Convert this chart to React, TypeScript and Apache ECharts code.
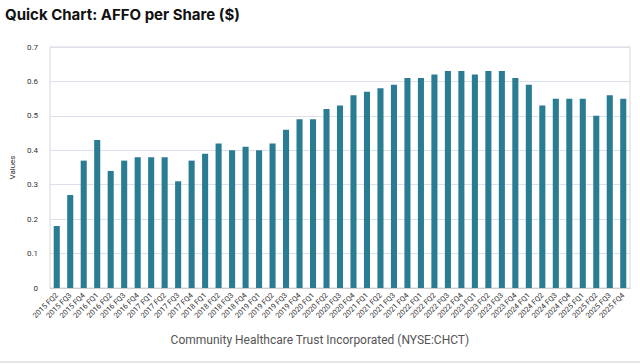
import React, { useEffect, useRef } from "react";
import * as echarts from "echarts";

const categories: string[] = [
  "2015 FQ2", "2015 FQ3", "2015 FQ4",
  "2016 FQ1", "2016 FQ2", "2016 FQ3", "2016 FQ4",
  "2017 FQ1", "2017 FQ2", "2017 FQ3", "2017 FQ4",
  "2018 FQ1", "2018 FQ2", "2018 FQ3", "2018 FQ4",
  "2019 FQ1", "2019 FQ2", "2019 FQ3", "2019 FQ4",
  "2020 FQ1", "2020 FQ2", "2020 FQ3", "2020 FQ4",
  "2021 FQ1", "2021 FQ2", "2021 FQ3", "2021 FQ4",
  "2022 FQ1", "2022 FQ2", "2022 FQ3", "2022 FQ4",
  "2023 FQ1", "2023 FQ2", "2023 FQ3", "2023 FQ4",
  "2024 FQ1", "2024 FQ2", "2024 FQ3", "2024 FQ4",
  "2025 FQ1", "2025 FQ2", "2025 FQ3", "2025 FQ4",
];

const affoPerShare: number[] = [
  0.18, 0.27, 0.37,
  0.43, 0.34, 0.37, 0.38,
  0.38, 0.38, 0.31, 0.37,
  0.39, 0.42, 0.40, 0.41,
  0.40, 0.42, 0.46, 0.49,
  0.49, 0.52, 0.53, 0.56,
  0.57, 0.58, 0.59, 0.61,
  0.61, 0.62, 0.63, 0.63,
  0.62, 0.63, 0.63, 0.61,
  0.59, 0.53, 0.55, 0.55,
  0.55, 0.50, 0.56, 0.55,
];

const titleText = "Quick Chart: AFFO per Share ($)";
const subtitleText = "Community Healthcare Trust Incorporated (NYSE:CHCT)";
const yAxisName = "Values";

export default function App() {
  const ref = useRef<HTMLDivElement>(null);
  useEffect(() => {
    if (!ref.current) return;
    const chart = echarts.init(ref.current, undefined, { renderer: "svg" });
    chart.setOption({
      animation: false,
      backgroundColor: "#ffffff",
      title: {
        text: titleText,
        left: 0,
        top: 2,
        textStyle: {
          fontFamily: "Inter",
          fontWeight: "bold",
          fontSize: 15,
          color: "#111111",
        },
      },
      grid: {
        left: 44,
        right: 10,
        top: 47,
        bottom: 76,
        show: true,
        borderColor: "#d8d8d8",
        borderWidth: 1,
        backgroundColor: "transparent",
      },
      xAxis: {
        type: "category",
        data: categories,
        boundaryGap: true,
        axisLine: { show: true, lineStyle: { color: "#cfcfcf" } },
        axisTick: { show: false },
        axisLabel: {
          rotate: 45,
          interval: 0,
          fontSize: 7.5,
          fontFamily: "Roboto",
          color: "#333333",
          margin: 6,
        },
      },
      yAxis: {
        type: "value",
        min: 0,
        max: 0.7,
        interval: 0.1,
        name: yAxisName,
        nameLocation: "middle",
        nameGap: 30,
        nameTextStyle: { fontSize: 8, fontFamily: "Roboto", color: "#333333" },
        axisLine: { show: false },
        axisTick: { show: false },
        axisLabel: {
          fontSize: 8,
          fontFamily: "Roboto",
          color: "#333333",
          margin: 12,
          formatter: (v: number) => (v === 0 ? "0" : v.toFixed(1)),
        },
        splitLine: { lineStyle: { color: "#dde0ea", width: 1 } },
      },
      series: [
        {
          type: "bar",
          data: affoPerShare,
          barWidth: "45%",
          itemStyle: { color: "#2a7c93" },
        },
      ],
      graphic: [
        {
          type: "text",
          left: "center",
          top: 334,
          style: {
            text: subtitleText,
            fontSize: 12,
            fontFamily: "Roboto",
            fill: "#555555",
          },
        },
        {
          type: "line",
          shape: { x1: 0, y1: 362, x2: 640, y2: 362 },
          style: { stroke: "#cccccc", lineWidth: 1 },
        },
      ],
    });
    return () => chart.dispose();
  }, []);
  return (
    <div
      ref={ref}
      style={{ position: "fixed", left: 0, top: 0, width: 640, height: 364 }}
    />
  );
}
